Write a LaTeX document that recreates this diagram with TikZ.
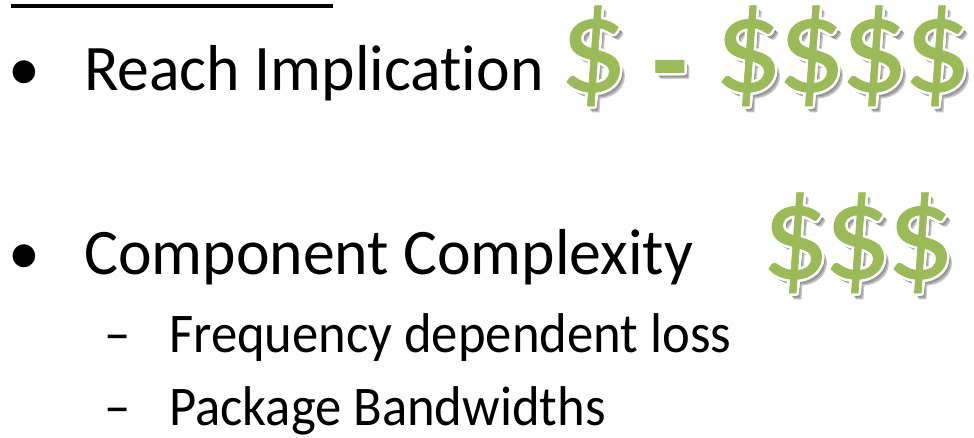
\documentclass[tikz,border=0pt]{standalone}
\usepackage{fontspec}
\setmainfont{Carlito}[Ligatures=NoCommon]
\newfontfamily\itemfont{Carlito}[Ligatures=NoCommon,FakeStretch=0.98]
\newfontfamily\subitemfont{Carlito}[Ligatures=NoCommon,FakeStretch=0.94]
\newfontfamily\costfont{Carlito}[FakeBold=0.5]
\usepackage{contour}
\contourlength{2.5pt}
\definecolor{dollargreen}{RGB}{155,187,89}
\tikzset{
  item/.style={anchor=base west, inner sep=0pt, font=\itemfont\fontsize{65}{70}\selectfont},
  subitem/.style={anchor=base west, inner sep=0pt, font=\subitemfont\fontsize{56}{60}\selectfont},
  cost/.style={anchor=base west, inner sep=0pt, font=\costfont\fontsize{135}{135}\selectfont, text=dollargreen},
  costshadow/.style={cost, text=black, opacity=0.15}
}
\newcommand\costmark[3]{% x, baseline y, glyph
  \foreach \dx/\dy in {3/-4,4/-5,5/-6}
    \node[costshadow] at (#1+\dx,#2+\dy) {#3};
  \node[cost] at (#1,#2) {\contour{white}{#3}};}

\begin{document}
\begin{tikzpicture}[x=1pt,y=1pt]
\useasboundingbox (0,0) rectangle (974,-438);
\clip (0,0) rectangle (974,-438);
% heading underline (text cut off above)
\fill (11,-4) rectangle (333,-8);
% bullets
\node[item] (b1) at (8,-91) {•};
\node[item] (reach) at (84,-91) {Reach Implication};
\node[item] (b2) at (8,-275) {•};
\node[item] (comp) at (84,-275) {Component Complexity};
\node[subitem] (d1) at (104,-352) {–};
\node[subitem] (freq) at (169,-352) {Frequency dependent loss};
\node[subitem] (d2) at (104,-425) {–};
\node[subitem] (pkg) at (169,-425) {Package Bandwidths};
% cost marks
\costmark{559}{-91}{\$}
\costmark{651}{-114}{\scalebox{0.9}[1.25]{-}}
\foreach \x in {714,777,840,903} {\costmark{\x}{-91}{\$}}
\foreach \x in {761,823,886} {\costmark{\x}{-278}{\$}}
\end{tikzpicture}
\end{document}
